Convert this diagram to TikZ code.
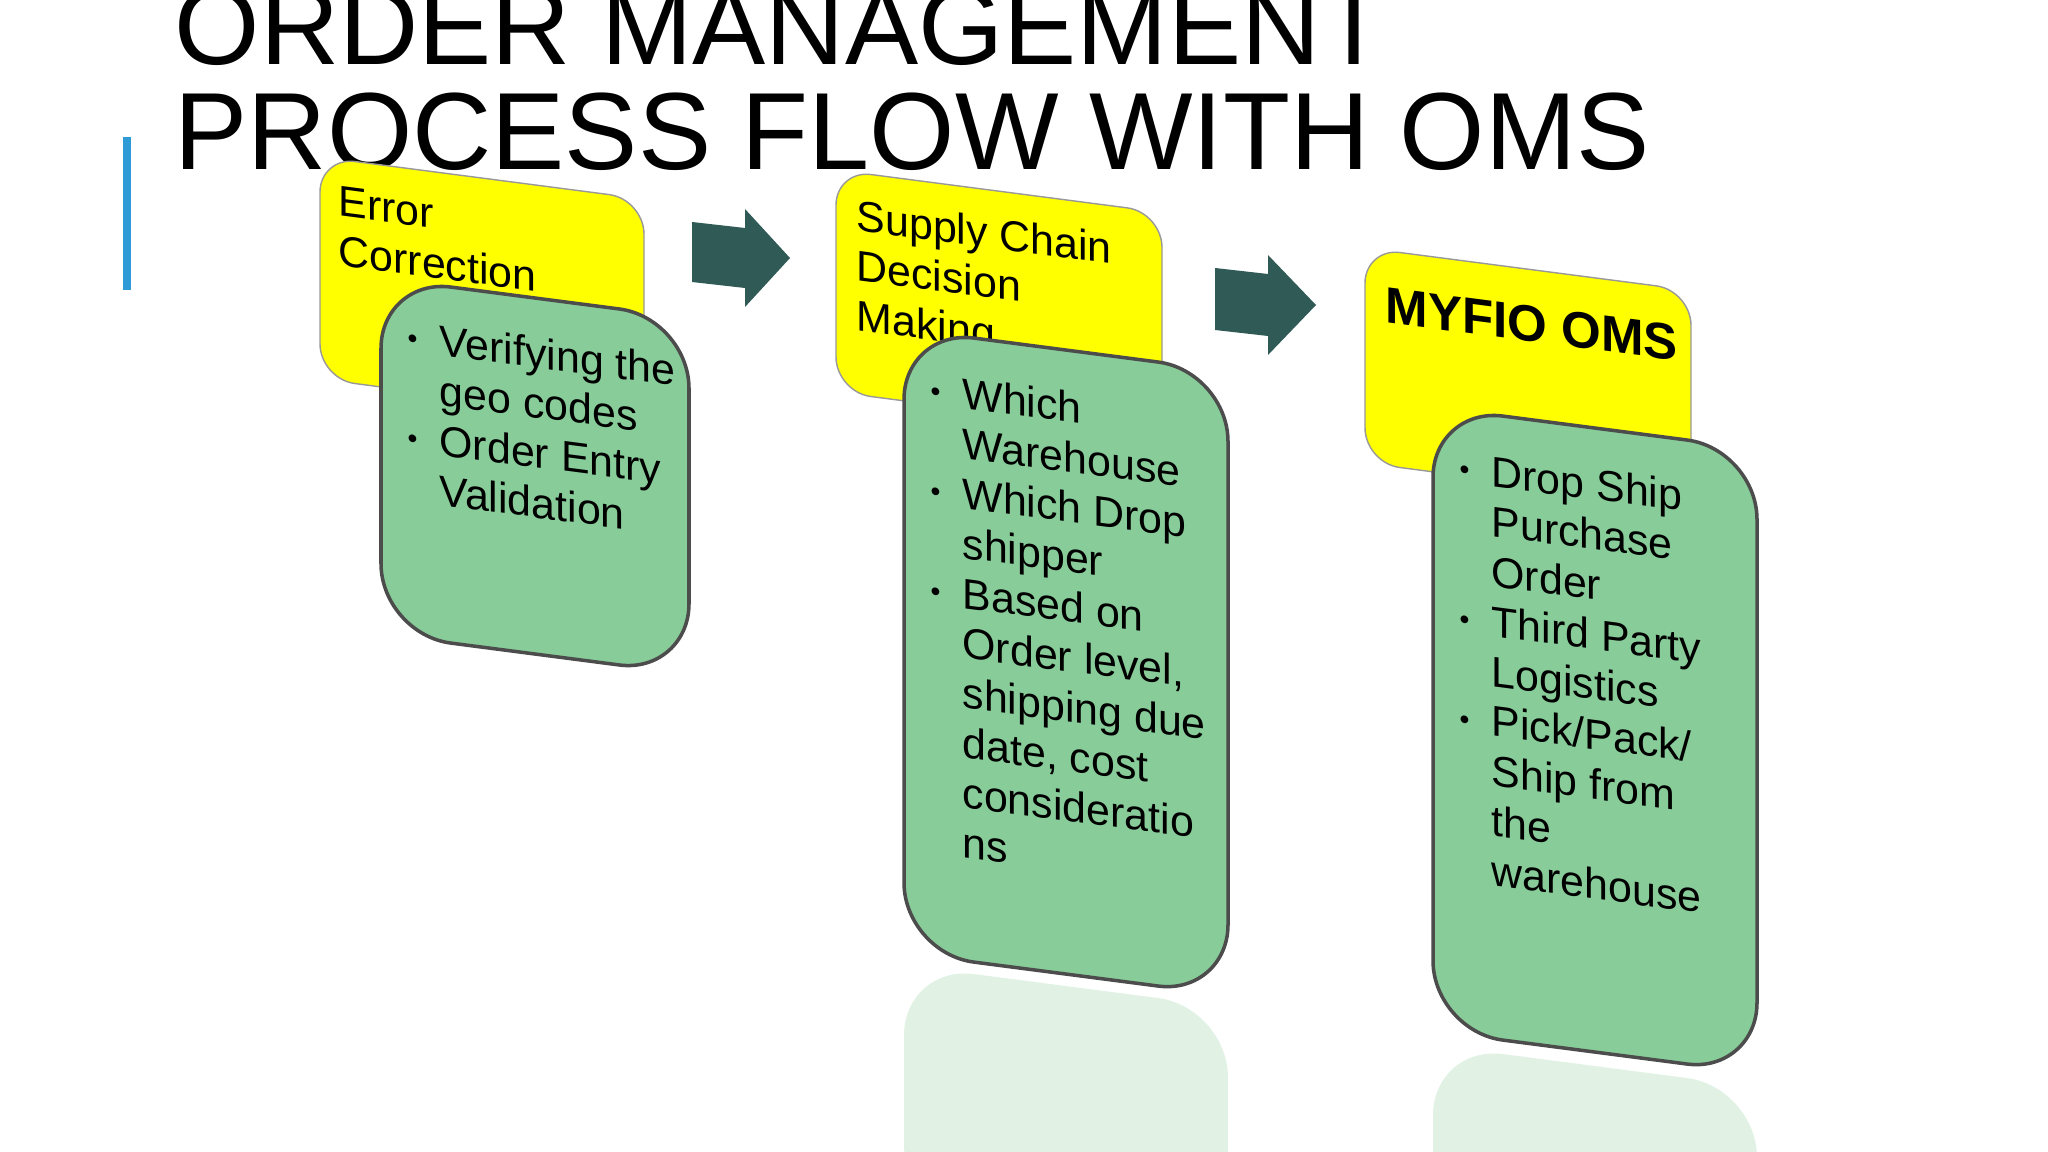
\documentclass[tikz,border=0pt]{standalone}
\usepackage{fontspec}
\setmainfont{Liberation Sans}
\definecolor{ybox}{HTML}{FFFF00}
\definecolor{gbox}{HTML}{88CC99}
\definecolor{arr}{HTML}{2F5A56}
\definecolor{blueline}{HTML}{2E9BD6}
\newcommand{\bl}{\raisebox{0.15ex}{\footnotesize\textbullet}}
\tikzset{
 ybx/.style={draw=black!40,fill=ybox,rounded corners=10},
 gbx/.style={draw=black!70,line width=1pt,fill=gbox,rounded corners=20},
 btxt/.style={anchor=north west,align=left,inner sep=0pt,font=\fontsize{12.2pt}{14.2pt}\selectfont,transform shape},
 arrw/.style={fill=arr,draw=none}
}
\begin{document}
\begin{tikzpicture}[x=0.01cm,y=0.01cm]
\useasboundingbox (0,0) rectangle (2048,-1152);
\fill[white] (0,0) rectangle (2048,-1152);
\node[anchor=base west,inner sep=0pt,font=\fontsize{31.2pt}{32pt}\selectfont] (t1) at (174,-65) {ORDER MANAGEMENT};
\node[anchor=base west,inner sep=0pt,font=\fontsize{31.2pt}{32pt}\selectfont] (t2) at (174,-170) {PROCESS FLOW WITH OMS};
\draw[blueline,line width=2pt] (127,-137) coordinate (b1) -- (127,-290) coordinate (b2);
% reflections
\begin{scope}[shift={(904,-965)},yslant=-0.13]
\fill[gbox,opacity=0.25,rounded corners=20] (0,0) rectangle (324,-250);
\end{scope}
\begin{scope}[shift={(1433,-1045)},yslant=-0.13]
\fill[gbox,opacity=0.25,rounded corners=20] (0,0) rectangle (324,-200);
\end{scope}
% box 1
\begin{scope}[shift={(320,-157)},yslant=-0.13]
\draw[ybx] (0,0) rectangle (324,-222);
\node[btxt] (y1) at (18,-26) {Error\\Correction};
\end{scope}
\begin{scope}[shift={(381,-278)},yslant=-0.13]
\draw[gbx] (0,0) rectangle (308,-356);
\node[btxt] (g1) at (26,-34) {\begin{tabular}{@{}l@{\hspace{0.22cm}}l@{}}\bl & Verifying the\\ & geo codes\\ \bl & Order Entry\\ & Validation\end{tabular}};
\end{scope}
% box 2
\begin{scope}[shift={(836,-170)},yslant=-0.13]
\draw[ybx] (0,0) rectangle (326,-222);
\node[btxt] (y2) at (20,-26) {Supply Chain\\Decision\\Making};
\end{scope}
\begin{scope}[shift={(904,-329)},yslant=-0.13]
\draw[gbx] (0,0) rectangle (324,-624);
\node[btxt] (g2) at (26,-36) {\begin{tabular}{@{}l@{\hspace{0.22cm}}l@{}}\bl & Which\\ & Warehouse\\ \bl & Which Drop\\ & shipper\\ \bl & Based on\\ & Order level,\\ & shipping due\\ & date, cost\\ & consideratio\\ & ns\end{tabular}};
\end{scope}
% box 3
\begin{scope}[shift={(1365,-248)},yslant=-0.13]
\draw[ybx] (0,0) rectangle (326,-215);
\node[btxt,font=\fontsize{14.5pt}{17pt}\selectfont\bfseries] (y3) at (20,-36) {MYFIO OMS};
\end{scope}
\begin{scope}[shift={(1433,-407)},yslant=-0.13]
\draw[gbx] (0,0) rectangle (324,-624);
\node[btxt] (g3) at (26,-36) {\begin{tabular}{@{}l@{\hspace{0.22cm}}l@{}}\bl & Drop Ship\\ & Purchase\\ & Order\\ \bl & Third Party\\ & Logistics\\ \bl & Pick/Pack/\\ & Ship from\\ & the\\ & warehouse\end{tabular}};
\end{scope}
% arrows
\fill[arrw] (692,-222) -- (745,-228) -- (745,-209) -- (790,-258) -- (745,-307) -- (745,-288) -- (692,-282) -- cycle;
\fill[arrw] (1215,-268) -- (1268,-274) -- (1268,-255) -- (1316,-305) -- (1268,-355) -- (1268,-336) -- (1215,-330) -- cycle;
\end{tikzpicture}
\end{document}
